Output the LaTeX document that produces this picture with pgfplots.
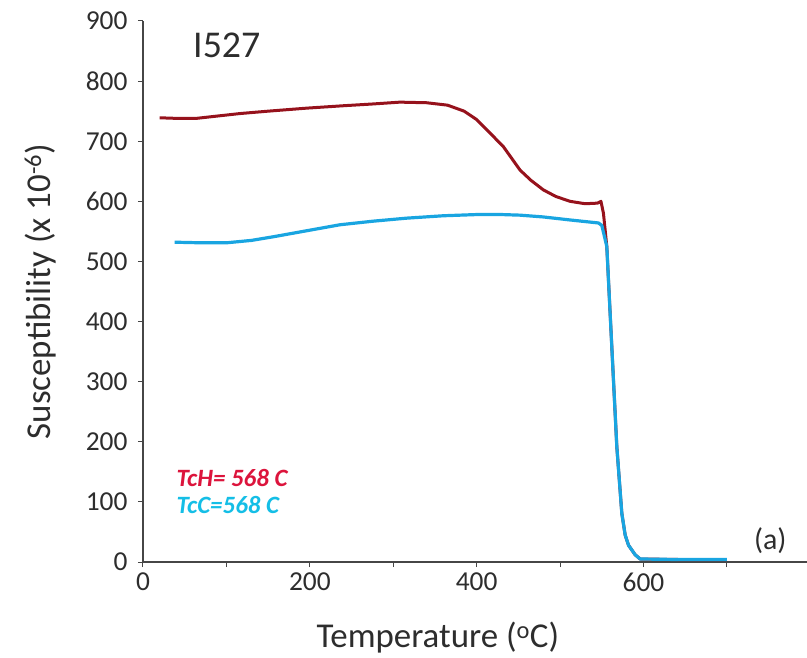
\documentclass[border=0pt]{standalone}
\usepackage{pgfplots}
\pgfplotsset{compat=1.18}
\usepackage{fontspec}
\setmainfont{Carlito}
\definecolor{heat}{RGB}{150,18,28}
\definecolor{cool}{RGB}{25,165,225}
\definecolor{tch}{RGB}{220,20,60}
\definecolor{tcc}{RGB}{20,190,230}
\definecolor{axgray}{RGB}{70,70,70}
\definecolor{txtgray}{RGB}{45,45,45}
\begin{document}
\begin{tikzpicture}
\begin{axis}[
 scale only axis, width=664bp, height=541bp,
 xmin=0, xmax=796, ymin=0, ymax=900,
 axis lines=left, axis line style={-, axgray, line width=1.6bp},
 xtick={0,200,400,600}, minor xtick={100,300,500,700},
 ytick={0,100,...,900},
 tick style={axgray, line width=1bp},
 major tick length=5bp, minor tick length=5bp,
 tick align=outside,
 /pgf/number format/assume math mode=true,
 ticklabel style={font=\fontsize{27.5}{27.5}\selectfont, text=txtgray},
 yticklabel style={xshift=-7bp},
 xticklabel style={yshift=-2bp},
 xlabel={Temperature (\textsuperscript{o}C)},
 ylabel={Susceptibility (x 10\textsuperscript{-6})},
 every axis x label/.style={at={(axis description cs:0.444,-0.139)}, anchor=center, font=\fontsize{35}{35}\selectfont, text=txtgray},
 every axis y label/.style={at={(axis description cs:-0.155,0.5)}, anchor=center, rotate=90, font=\fontsize{35}{35}\selectfont, text=txtgray},
 clip=false,
]
\addplot[heat, line width=3bp, line join=round] coordinates {
(20,739)(40,738)(64,738)(90,742)(116,746)(150,750)(196,755)(240,759)(276,762)(308,765)(340,764)(365,760)(385,750)(400,736)(415,715)(432,691)(452,652)(465,635)(480,619)(495,608)(512,600)(530,596)(545,597)(549,600)(552,580)(556,525)(562,358)(568,192)(574,81)(578,45)(582,28)(590,12)(596,5)(650,4)(700,4)};
\addplot[cool, line width=3.2bp, line join=round] coordinates {
(38,532)(70,531)(100,531)(130,535)(156,541)(196,551)(236,561)(276,567)(316,572)(360,576)(400,578)(430,578)(452,577)(480,574)(512,569)(546,564)(550,560)(556,525)(562,358)(568,192)(574,81)(578,45)(582,28)(590,12)(596,5)(650,4)(700,4)};
\node[anchor=west, font=\fontsize{38}{38}\selectfont, text=txtgray] at (axis cs:56,860) {I527};
\node[anchor=west, font=\bfseries\itshape\fontsize{25}{25}\selectfont, text=tch] at (axis cs:36,140) {TcH= 568 C};
\node[anchor=west, font=\bfseries\itshape\fontsize{25}{25}\selectfont, text=tcc] at (axis cs:36,95) {TcC=568 C};
\node[font=\fontsize{30}{30}\selectfont, text=txtgray] at (axis cs:752,35) {(a)};
\coordinate (O) at (axis cs:0,0);
\end{axis}
\pgfresetboundingbox
\useasboundingbox (O) ++(-143bp,-96bp) rectangle ++(807bp,658bp);
\end{tikzpicture}
\end{document}
